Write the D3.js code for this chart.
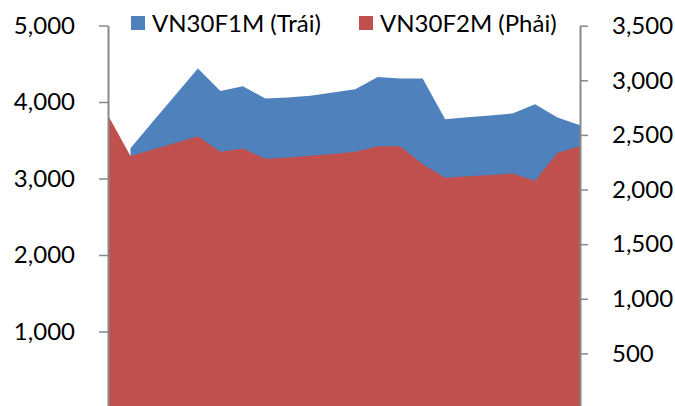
<!DOCTYPE html>
<html><head><meta charset="utf-8">
<script src="https://cdn.jsdelivr.net/npm/d3@7"></script>
<style>body{margin:0;background:#fff}svg{display:block}text{font-family:Lato,"Open Sans",sans-serif}</style>
</head><body>
<svg id="c" width="675" height="406"></svg>
<script>
const periods = d3.range(22);
const seriesNames = ["VN30F1M (Trái)", "VN30F2M (Phải)"];
const vn30f1m = [null, 3396, 3745, 4093, 4437, 4145, 4206, 4046, 4059, 4082, 4124, 4167, 4328, 4307, 4307, 3775, 3801, 3825, 3850, 3971, 3798, 3697];
const vn30f2m = [2681, 2306, 2367, 2427, 2489, 2345, 2376, 2281, 2294, 2310, 2326, 2345, 2397, 2397, 2232, 2107, 2121, 2134, 2147, 2080, 2336, 2397];
const leftTicks = [1000, 2000, 3000, 4000, 5000];
const rightTicks = [500, 1000, 1500, 2000, 2500, 3000, 3500];
const colors = ["#4F81BD", "#C0504D"];

const svg = d3.select("#c");
const x = d3.scalePoint().domain(periods).range([108, 580]);
const yL = d3.scaleLinear().domain([0, 5000]).range([408, 25.5]);
const yR = d3.scaleLinear().domain([0, 3500]).range([408, 25.7]);

const areaL = d3.area().defined(d => d != null).x((d, i) => x(i)).y0(yL(0)).y1(d => yL(d));
const areaR = d3.area().x((d, i) => x(i)).y0(yR(0)).y1(d => yR(d));
svg.append("path").attr("d", areaL(vn30f1m)).attr("fill", colors[0]);
svg.append("path").attr("d", areaR(vn30f2m)).attr("fill", colors[1]);

const axL = svg.append("g").attr("transform", "translate(108,0)")
  .call(d3.axisLeft(yL).tickValues(leftTicks).tickSize(9).tickSizeOuter(0).tickPadding(24).tickFormat(d3.format(",")));
const axR = svg.append("g").attr("transform", "translate(580,0)")
  .call(d3.axisRight(yR).tickValues(rightTicks).tickSize(8).tickSizeOuter(0).tickPadding(24).tickFormat(d3.format(",")));
[axL, axR].forEach(a => {
  a.select(".domain").attr("stroke", "#888").attr("stroke-width", 2);
  a.selectAll(".tick line").attr("stroke", "#888").attr("stroke-width", 1.5);
  a.selectAll(".tick text").attr("fill", "#000").style("font-size", "24px").style("font-family", "Lato");
});

const legX = [131, 359];
seriesNames.forEach((n, i) => {
  const g = svg.append("g").attr("transform", `translate(${legX[i]},16)`);
  g.append("rect").attr("width", 14).attr("height", 14).attr("fill", colors[i]);
  g.append("text").attr("x", 21).attr("y", 16).attr("font-size", 24).attr("fill", "#000").text(n);
});
</script>
</body></html>
